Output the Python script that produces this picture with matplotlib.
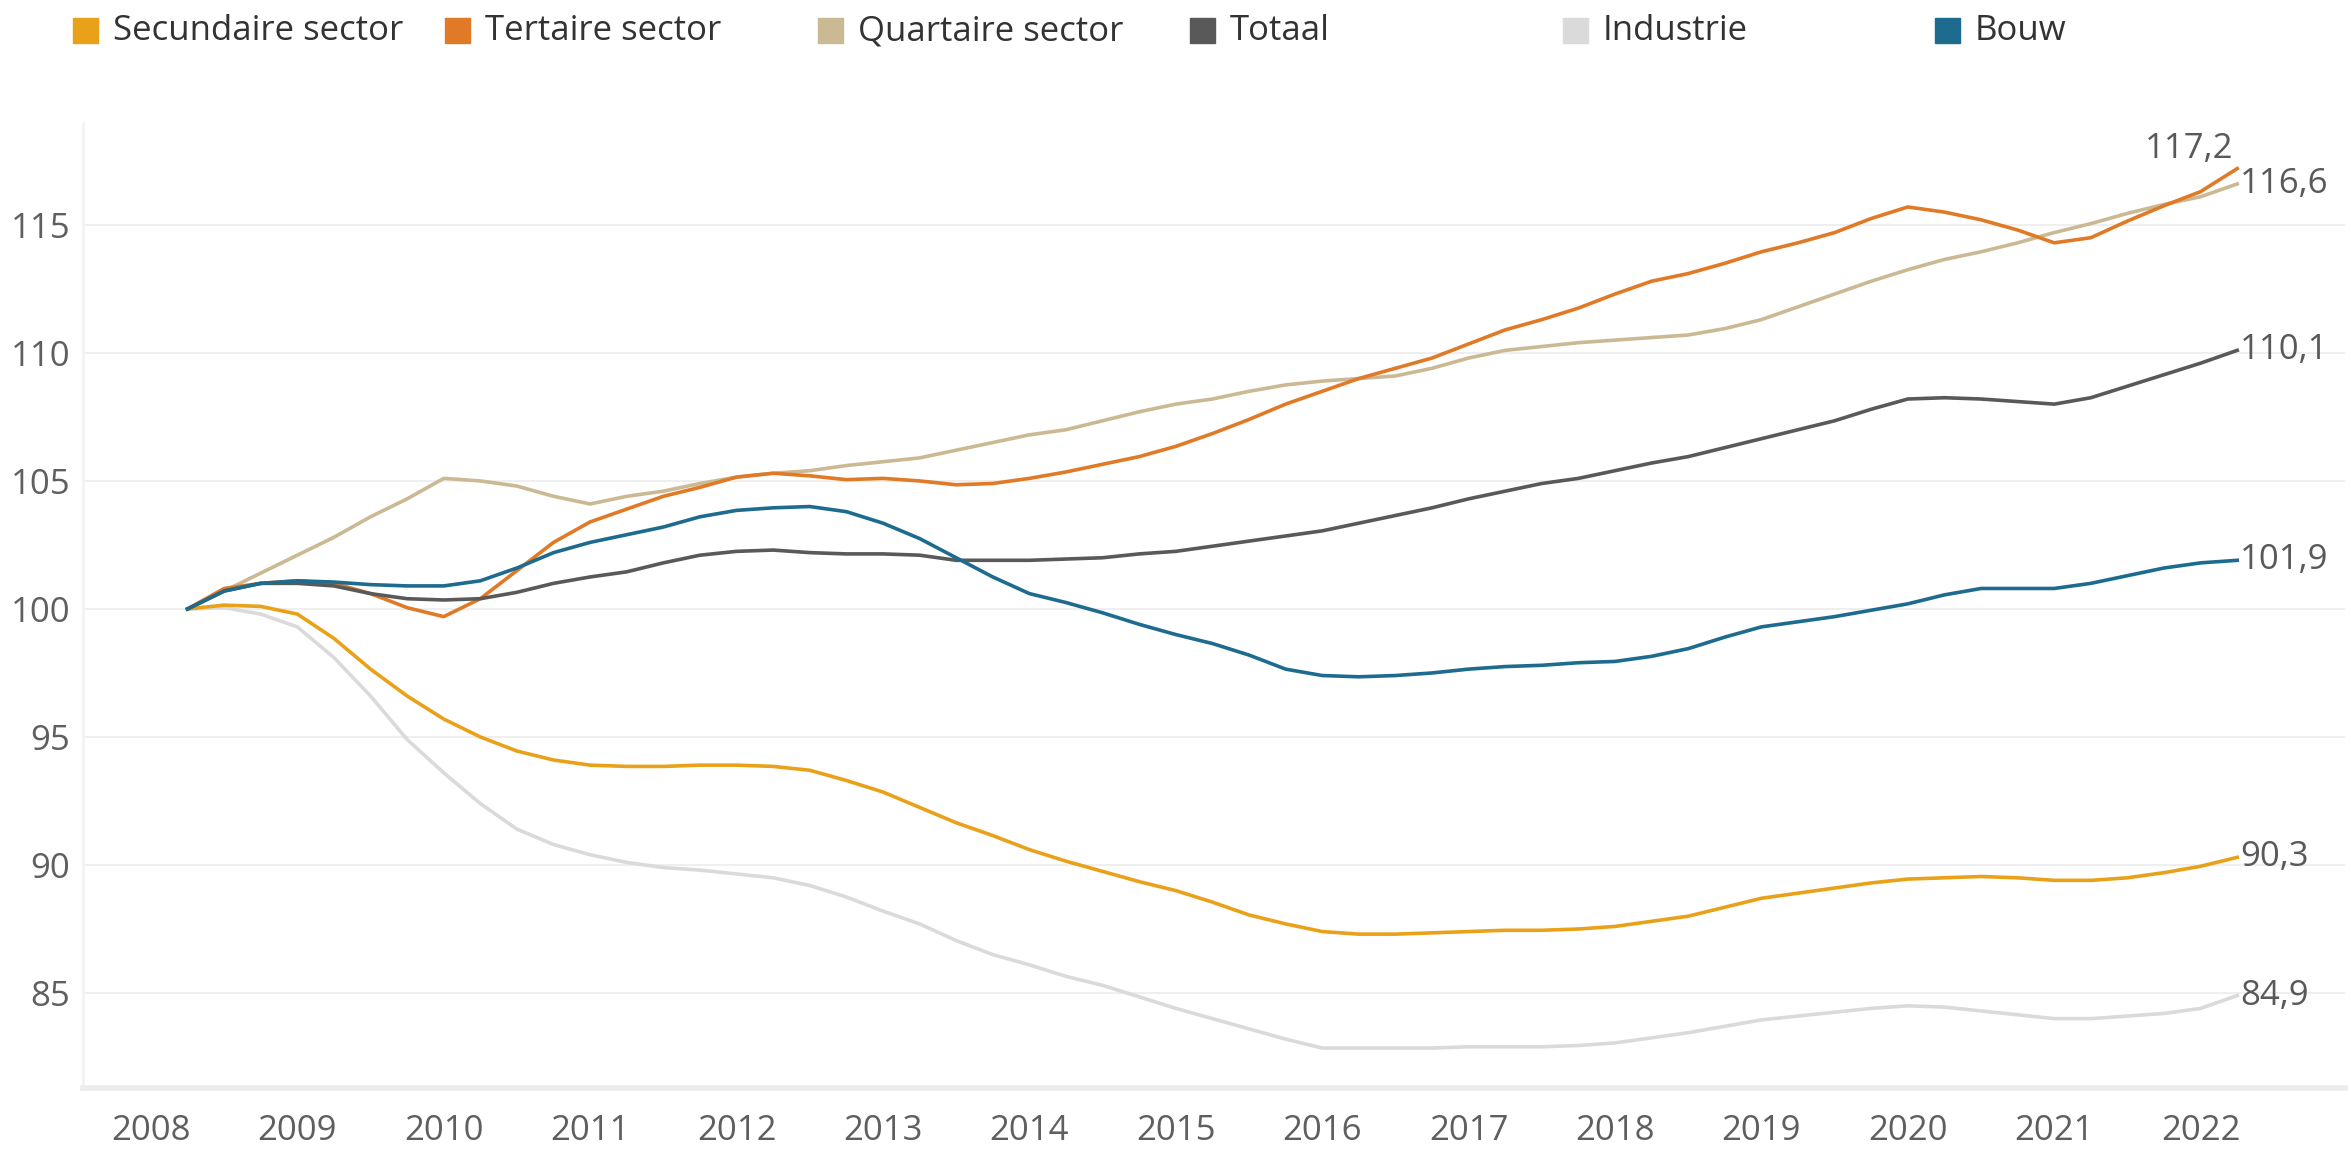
import numpy as np
import matplotlib.pyplot as plt
from matplotlib.patches import Rectangle

plt.rcParams['font.family'] = ['Open Sans', 'DejaVu Sans']

# quarterly index, 2008 Q2 = 100
quarters = 2008.25 + 0.25 * np.arange(57)

secundaire = [100, 100.15, 100.1, 99.8, 98.85, 97.65, 96.6, 95.7, 95.0, 94.45, 94.1, 93.9,
              93.85, 93.85, 93.9, 93.9, 93.85, 93.7, 93.3, 92.85, 92.25, 91.65, 91.15, 90.6,
              90.15, 89.75, 89.35, 89.0, 88.55, 88.05, 87.7, 87.4, 87.3, 87.3, 87.35, 87.4,
              87.45, 87.45, 87.5, 87.6, 87.8, 88.0, 88.35, 88.7, 88.9, 89.1, 89.3, 89.45,
              89.5, 89.55, 89.5, 89.4, 89.4, 89.5, 89.7, 89.95, 90.3]
tertaire = [100, 100.8, 101.0, 101.1, 101.0, 100.6, 100.05, 99.7, 100.4, 101.5, 102.6, 103.4,
            103.9, 104.4, 104.75, 105.15, 105.3, 105.2, 105.05, 105.1, 105.0, 104.85, 104.9, 105.1,
            105.35, 105.65, 105.95, 106.35, 106.85, 107.4, 108.0, 108.5, 109.0, 109.4, 109.8, 110.35,
            110.9, 111.3, 111.75, 112.3, 112.8, 113.1, 113.5, 113.95, 114.3, 114.7, 115.25, 115.7,
            115.5, 115.2, 114.8, 114.3, 114.5, 115.15, 115.75, 116.3, 117.2]
quartaire = [100, 100.7, 101.4, 102.1, 102.8, 103.6, 104.3, 105.1, 105.0, 104.8, 104.4, 104.1,
             104.4, 104.6, 104.9, 105.15, 105.3, 105.4, 105.6, 105.75, 105.9, 106.2, 106.5, 106.8,
             107.0, 107.35, 107.7, 108.0, 108.2, 108.5, 108.75, 108.9, 109.0, 109.1, 109.4, 109.8,
             110.1, 110.25, 110.4, 110.5, 110.6, 110.7, 110.95, 111.3, 111.8, 112.3, 112.8, 113.25,
             113.65, 113.95, 114.3, 114.7, 115.05, 115.45, 115.8, 116.1, 116.6]
totaal = [100, 100.7, 101.0, 101.0, 100.9, 100.6, 100.4, 100.35, 100.4, 100.65, 101.0, 101.25,
          101.45, 101.8, 102.1, 102.25, 102.3, 102.2, 102.15, 102.15, 102.1, 101.9, 101.9, 101.9,
          101.95, 102.0, 102.15, 102.25, 102.45, 102.65, 102.85, 103.05, 103.35, 103.65, 103.95, 104.3,
          104.6, 104.9, 105.1, 105.4, 105.7, 105.95, 106.3, 106.65, 107.0, 107.35, 107.8, 108.2,
          108.25, 108.2, 108.1, 108.0, 108.25, 108.7, 109.15, 109.6, 110.1]
industrie = [100, 100.05, 99.8, 99.3, 98.1, 96.6, 94.9, 93.6, 92.4, 91.4, 90.8, 90.4,
             90.1, 89.9, 89.8, 89.65, 89.5, 89.2, 88.75, 88.2, 87.7, 87.05, 86.5, 86.1,
             85.65, 85.3, 84.85, 84.4, 84.0, 83.6, 83.2, 82.85, 82.85, 82.85, 82.85, 82.9,
             82.9, 82.9, 82.95, 83.05, 83.25, 83.45, 83.7, 83.95, 84.1, 84.25, 84.4, 84.5,
             84.45, 84.3, 84.15, 84.0, 84.0, 84.1, 84.2, 84.4, 84.9]
bouw = [100, 100.7, 101.0, 101.1, 101.05, 100.95, 100.9, 100.9, 101.1, 101.6, 102.2, 102.6,
        102.9, 103.2, 103.6, 103.85, 103.95, 104.0, 103.8, 103.35, 102.75, 102.0, 101.25, 100.6,
        100.25, 99.85, 99.4, 99.0, 98.65, 98.2, 97.65, 97.4, 97.35, 97.4, 97.5, 97.65,
        97.75, 97.8, 97.9, 97.95, 98.15, 98.45, 98.9, 99.3, 99.5, 99.7, 99.95, 100.2,
        100.55, 100.8, 100.8, 100.8, 101.0, 101.3, 101.6, 101.8, 101.9]

legend_names = ['Secundaire sector', 'Tertaire sector', 'Quartaire sector', 'Totaal', 'Industrie', 'Bouw']
series = [secundaire, tertaire, quartaire, totaal, industrie, bouw]
colors = ['#e9a11a', '#e07a26', '#cbb994', '#595959', '#dadada', '#1d6b8f']
draw_order = [4, 2, 0, 1, 3, 5]

years = list(range(2008, 2023))
yticks = [85, 90, 95, 100, 105, 110, 115]

W, H = 2351, 1149
fig = plt.figure(figsize=(W / 100, H / 100), dpi=100)
ax = fig.add_axes([83 / W, 1 - 1088 / H, (2345 - 83) / W, (1088 - 123) / H])

for i in draw_order:
    ax.plot(quarters, series[i], color=colors[i], lw=2.6, solid_joinstyle='round', zorder=3)

# end labels
for i in [0, 2, 3, 4, 5]:
    ax.annotate(f"{series[i][-1]:.1f}".replace('.', ','), (quarters[-1], series[i][-1]),
                xytext=(2, 0), textcoords='offset points', ha='left', va='center',
                fontsize=25, color='#595959')
ax.annotate(f"{tertaire[-1]:.1f}".replace('.', ','), (quarters[-1], tertaire[-1]),
            xytext=(-3, 14), textcoords='offset points', ha='right', va='center',
            fontsize=25, color='#595959')

ax.set_xlim(2007.536, 2022.986)
ax.set_ylim(81.29, 118.98)
ax.set_xticks(years)
ax.set_xticklabels([str(y) for y in years])
ax.set_yticks(yticks)
ax.grid(axis='y', color='#efefef', lw=1.5, zorder=0)
ax.tick_params(length=0, labelsize=25, colors='#5f5f5f')
ax.tick_params(axis='x', pad=19)
ax.tick_params(axis='y', pad=9)

for s in ['top', 'right']:
    ax.spines[s].set_visible(False)
ax.spines['left'].set_color('#f3f3f3')
ax.spines['left'].set_linewidth(2)
ax.spines['bottom'].set_color('#ececec')
ax.spines['bottom'].set_linewidth(4)

# legend row
for k, name in enumerate(legend_names):
    x0 = 73 + 372.4 * k
    fig.patches.append(Rectangle((x0 / W, 1 - 43 / H), 25 / W, 25 / H,
                                 transform=fig.transFigure, color=colors[k]))
    fig.text((x0 + 40) / W, 1 - 31 / H, name, fontsize=25, color='#333333',
             ha='left', va='center')

fig.savefig('out.png', dpi=100, facecolor='white')
